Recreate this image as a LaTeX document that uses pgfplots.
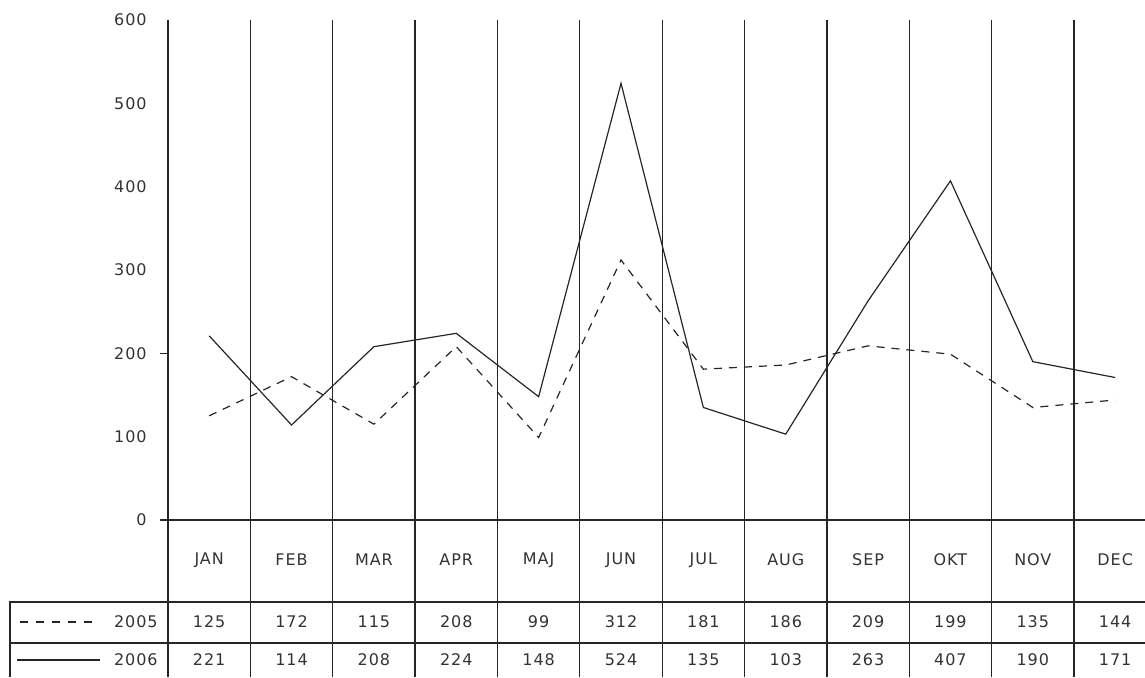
\documentclass[border=0pt]{standalone}
\usepackage{fontspec}
\setmainfont{DejaVu Sans}[LetterSpace=6]
\usepackage{pgfplots}
\pgfplotsset{compat=1.18}
\pgfplotstableread{
x y m
0.5 -122.4 125
1.5 -122.4 172
2.5 -122.4 115
3.5 -122.4 208
4.5 -122.4 99
5.5 -122.4 312
6.5 -122.4 181
7.5 -122.4 186
8.5 -122.4 209
9.5 -122.4 199
10.5 -122.4 135
11.5 -122.4 144
}\tabA
\pgfplotstableread{
x y m
0.5 -168 221
1.5 -168 114
2.5 -168 208
3.5 -168 224
4.5 -168 148
5.5 -168 524
6.5 -168 135
7.5 -168 103
8.5 -168 263
9.5 -168 407
10.5 -168 190
11.5 -168 171
}\tabB
\pgfplotstableread{
x y m
0.5 -48 JAN
1.5 -48 FEB
2.5 -48 MAR
3.5 -48 APR
4.5 -48 MAJ
5.5 -48 JUN
6.5 -48 JUL
7.5 -48 AUG
8.5 -48 SEP
9.5 -48 OKT
10.5 -48 NOV
11.5 -48 DEC
}\tabM
\begin{document}
\fontsize{8}{9.6}\selectfont
\begin{tikzpicture}
\begin{axis}[
  scale only axis, width=488.5pt, height=328.5pt,
  xmin=0, xmax=11.862, ymin=-188.4, ymax=600,
  clip=false,
  axis line style={draw=none},
  xtick=\empty,
  ytick={0,100,...,600},
  ytick pos=left, major tick length=0pt,
  tick style={draw=none},
  yticklabel style={font=\fontsize{8}{9.6}\selectfont, text=black!80, xshift=-7.8pt},
  /pgf/number format/assume math mode=true,
  every node near coord/.append style={font=\fontsize{8}{9.6}\selectfont, text=black!80, anchor=center},
]
\pgfplotsinvokeforeach{0,...,11}{\draw[black!85, line width=0.6pt] (axis cs:#1,600) -- (axis cs:#1,-188.4);}
\draw[black!85, line width=0.6pt] ([xshift=-4pt]axis cs:0,0) -- (axis cs:11.862,0);
\draw[black!85, line width=0.6pt] ([xshift=-4pt]axis cs:0,200) -- (axis cs:0,200);
\draw[black!85, line width=0.6pt] (axis cs:-1.918,-188.4) |- (axis cs:11.862,-98.4);
\draw[black!85, line width=0.6pt] (axis cs:-1.918,-147.6) -- (axis cs:11.862,-147.6);
\draw[black!85, line width=0.6pt, dash pattern=on 4pt off 4pt] (axis cs:-1.797,-122.4) -- (axis cs:-0.826,-122.4);
\draw[black!85, line width=0.6pt] (axis cs:-1.833,-168) -- (axis cs:-0.826,-168);
\node[anchor=east, text=black!80, inner sep=0pt] at (axis cs:-0.121,-122.4) {2005};
\node[anchor=east, text=black!80, inner sep=0pt] at (axis cs:-0.121,-168) {2006};

\addplot[black!85, line width=0.6pt, dash pattern=on 4pt off 3.5pt] coordinates {
(0.5,125)(1.5,172)(2.5,115)(3.5,208)(4.5,99)(5.5,312)(6.5,181)(7.5,186)(8.5,209)(9.5,199)(10.5,135)(11.5,144)};
\addplot[black!85, line width=0.6pt] coordinates {
(0.5,221)(1.5,114)(2.5,208)(3.5,224)(4.5,148)(5.5,524)(6.5,135)(7.5,103)(8.5,263)(9.5,407)(10.5,190)(11.5,171)};

\addplot[draw=none, mark=none, nodes near coords, point meta=explicit symbolic] table[x=x, y=y, meta=m] {\tabA};
\addplot[draw=none, mark=none, nodes near coords, point meta=explicit symbolic] table[x=x, y=y, meta=m] {\tabB};
\addplot[draw=none, mark=none, nodes near coords, point meta=explicit symbolic] table[x=x, y=y, meta=m] {\tabM};

\coordinate (BL) at (axis cs:-2.0398,-188.4);
\coordinate (TR) at (axis cs:11.862,624);
\end{axis}
\pgfresetboundingbox
\path[use as bounding box] (BL) rectangle (TR);
\end{tikzpicture}
\end{document}
